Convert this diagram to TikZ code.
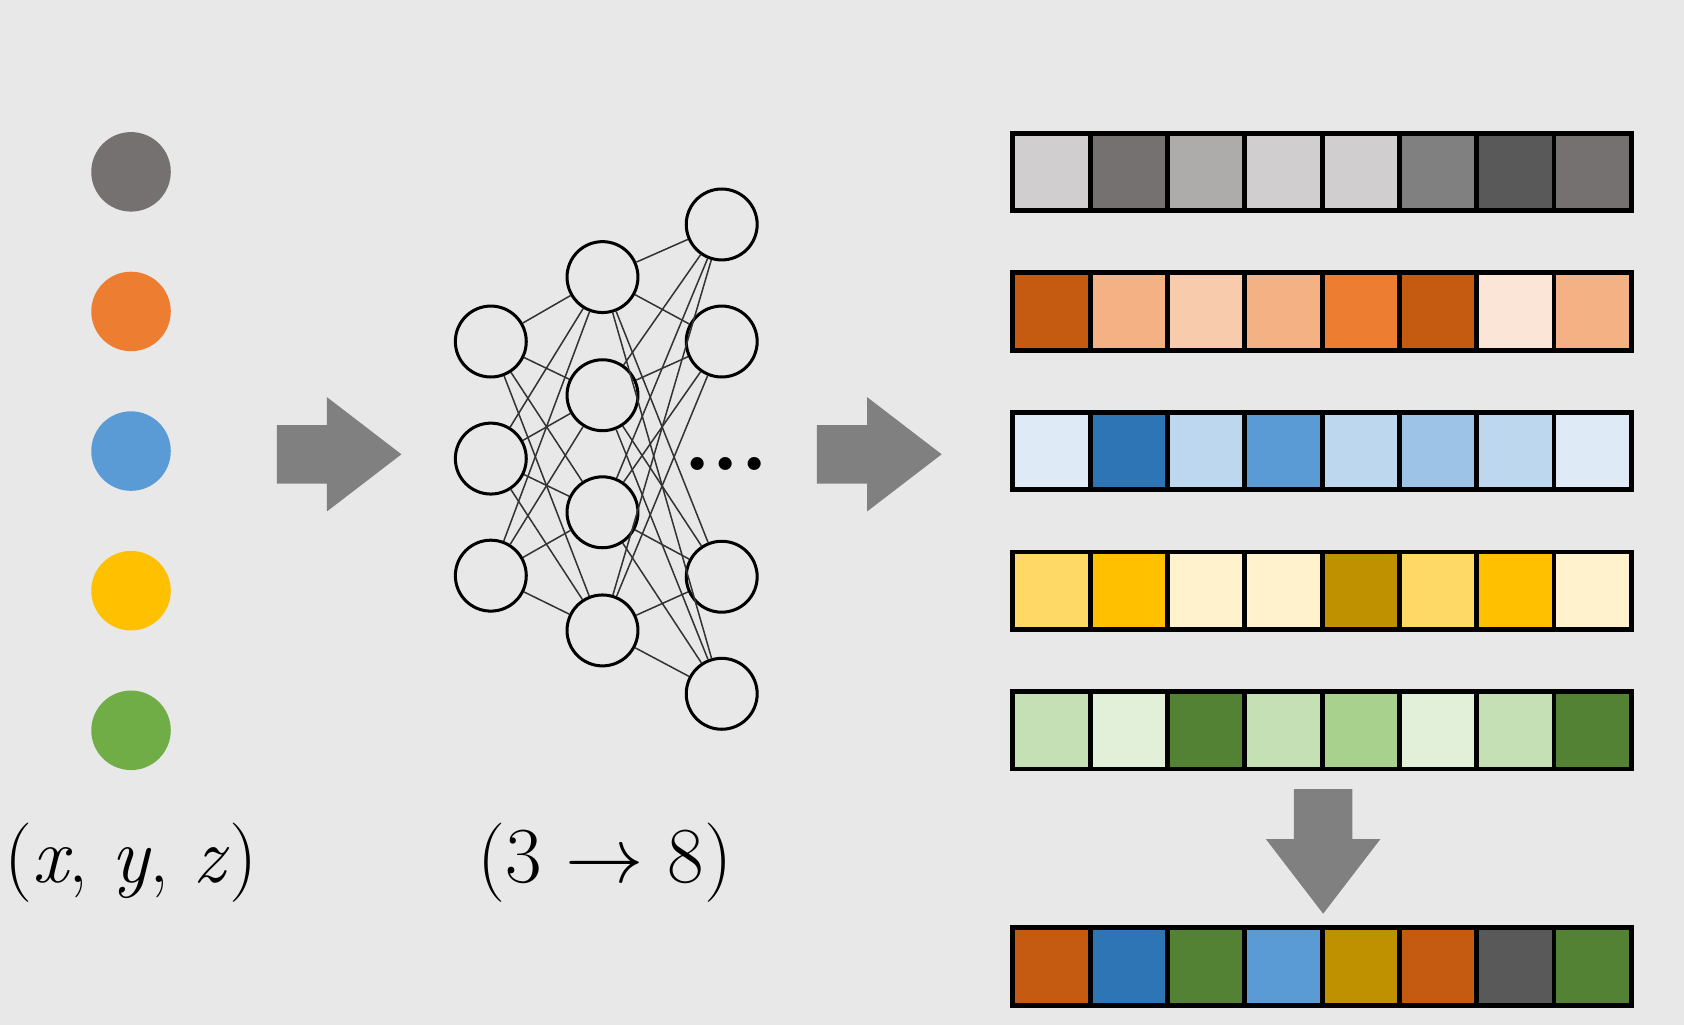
\documentclass[tikz,border=0pt]{standalone}
\usetikzlibrary{shapes.arrows}
\definecolor{bg}{HTML}{E8E8E8}
\definecolor{arrowgray}{HTML}{808080}
\begin{document}
\begin{tikzpicture}[x=0.01cm, y=-0.01cm,
    dot/.style={circle, minimum size=0.74cm, inner sep=0pt},
    neuron/.style={circle, draw=black, line width=0.8pt, minimum size=0.66cm, inner sep=0pt},
    cell/.style={rectangle, draw=black, line width=1.3pt, minimum size=0.72cm, inner sep=0pt},
    bigarrow/.style={single arrow, fill=arrowgray, inner sep=0.265cm, single arrow head extend=0.26cm,
        single arrow tip angle=75, minimum height=1.16cm},
    label/.style={font=\fontsize{21}{25}\selectfont}]
    \fill[bg] (0, 0) rectangle (1568, 954);
    \useasboundingbox (0, 0) rectangle (1568, 954);

    % input points
    \foreach \c [count=\i] in {767171, ED7D31, 5B9BD5, FFC000, 70AD47} {
        \definecolor{dotc}{HTML}{\c}
        \node[dot, fill=dotc] (p-\i) at (122, 30+130*\i) {};
    }
    \node[label] (xyz) at (122, 803) {(\textit{x}, \textit{y}, \textit{z})};

    \node[bigarrow] (arr-1) at (298, 423) {};

    % network
    \foreach \y [count=\i] in {318, 427, 536}
        \node[neuron] (a-\i) at (457, \y) {};
    \foreach \y [count=\i] in {258, 368, 477, 587}
        \node[neuron] (b-\i) at (561, \y) {};
    \foreach \y [count=\i] in {209, 318, 537, 646}
        \node[neuron] (c-\i) at (672, \y) {};
    \node[font=\fontsize{24}{24}\selectfont\bfseries, inner sep=0pt] (dots) at (676, 432) {...};
    \foreach \i in {1,...,3}
        \foreach \j in {1,...,4}
            \draw[line width=0.4pt, black!80] (a-\i) -- (b-\j);
    \foreach \i in {1,...,4}
        \foreach \j in {1,...,4}
            \draw[line width=0.4pt, black!80] (b-\i) -- (c-\j);
    \node[label] (dim) at (563, 803) {(3 $\rightarrow$ 8)};

    \node[bigarrow] (arr-2) at (801, 423) {};

    % feature rows
    \foreach \row/\cols in {1/{D0CECE,767171,AEABAB,D0CECE,D0CECE,808080,595959,767171},
                            2/{C55A11,F4B183,F8CBAD,F4B183,ED7D31,C55A11,FBE5D6,F4B183},
                            3/{DEEBF7,2E75B6,BDD7EE,5B9BD5,BDD7EE,9DC3E6,BDD7EE,DEEBF7},
                            4/{FFD966,FFC000,FFF2CC,FFF2CC,BF9000,FFD966,FFC000,FFF2CC},
                            5/{C5E0B4,E2F0D9,548235,C5E0B4,A9D18E,E2F0D9,C5E0B4,548235}} {
        \foreach \c [count=\k] in \cols {
            \definecolor{cellc}{HTML}{\c}
            \node[cell, fill=cellc] (r\row-\k) at (943+72*\k-36, 30+130*\row) {};
        }
    }
    \node[bigarrow, rotate=-90] (arr-3) at (1232, 775) {};
    \foreach \c [count=\k] in {C55A11,2E75B6,548235,5B9BD5,BF9000,C55A11,595959,548235} {
        \definecolor{cellc}{HTML}{\c}
        \node[cell, fill=cellc] (out-\k) at (943+72*\k-36, 900) {};
    }
\end{tikzpicture}
\end{document}
